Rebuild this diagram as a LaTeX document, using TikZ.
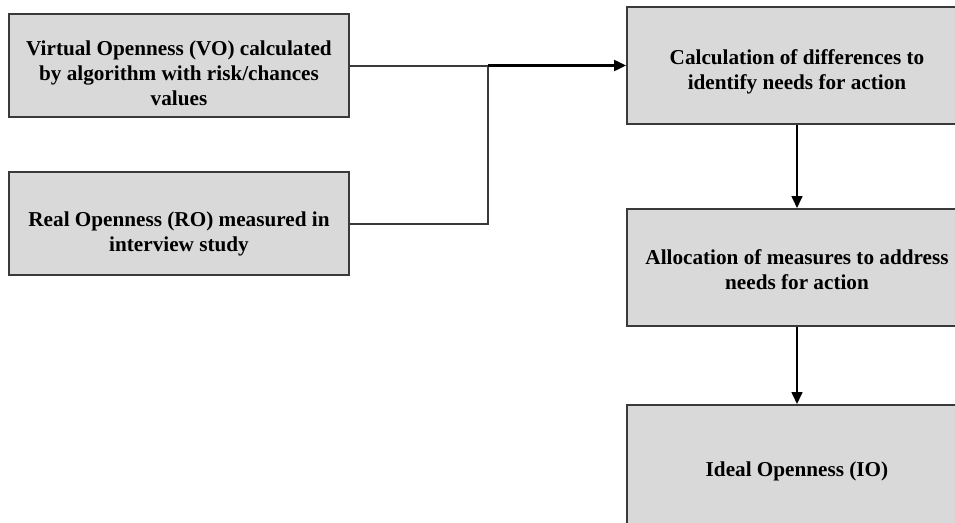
\documentclass[tikz,border=0pt]{standalone}
\usepackage{fontspec}
\setmainfont{Liberation Serif}
\usetikzlibrary{arrows.meta}
\definecolor{boxfill}{HTML}{D9D9D9}
\definecolor{boxline}{HTML}{3A3A3A}
\begin{document}
\begin{tikzpicture}[x=1pt,y=-1pt,
  box/.style={draw=boxline, line width=2pt, fill=boxfill, inner sep=0pt},
  boxtext/.style={align=center, inner sep=0pt,
    font=\bfseries\fontsize{21.2}{25}\selectfont},
  conn/.style={draw=boxline, line width=2pt},
  arr/.style={draw=black, line width=2.4pt, -{Triangle[length=12pt,width=11pt]}},
  varr/.style={draw=black, line width=1.6pt, -{Triangle[length=12pt,width=11pt]}}]
\useasboundingbox (0,0) rectangle (955,522);
\clip (0,0) rectangle (955,522);
\node[box, minimum width=340, minimum height=103] (vo) at (179,65.5) {};
\node[box, minimum width=340, minimum height=103] (ro) at (179,223.5) {};
\node[box, minimum width=340, minimum height=117] (calc) at (797,65.5) {};
\node[box, minimum width=340, minimum height=117] (alloc) at (797,267.5) {};
\node[box, minimum width=340, minimum height=124] (io) at (797,467) {};
\node[boxtext, yshift=-8] (vot) at (vo.center)
  {Virtual Openness (VO) calculated\\by algorithm with risk/chances\\values};
\node[boxtext, yshift=-10] (rot) at (ro.center)
  {Real Openness (RO) measured in\\interview study};
\node[boxtext, yshift=-6] (calct) at (calc.center)
  {Calculation of differences to\\identify needs for action};
\node[boxtext, yshift=-2] (alloct) at (alloc.center)
  {Allocation of measures to address\\needs for action};
\node[boxtext, yshift=-4] (iot) at (io.center)
  {Ideal Openness (IO)};
\coordinate (j1) at (488,65.5);
\coordinate (j2) at (488,223.5);
\draw[conn] (vo.east) -- (j1);
\draw[conn] (ro.east) -- (j2) -- (j1);
\draw[arr] (j1) -- (calc.west);
\draw[varr] (calc.south) -- (alloc.north);
\draw[varr] (alloc.south) -- (io.north);
\end{tikzpicture}
\end{document}
